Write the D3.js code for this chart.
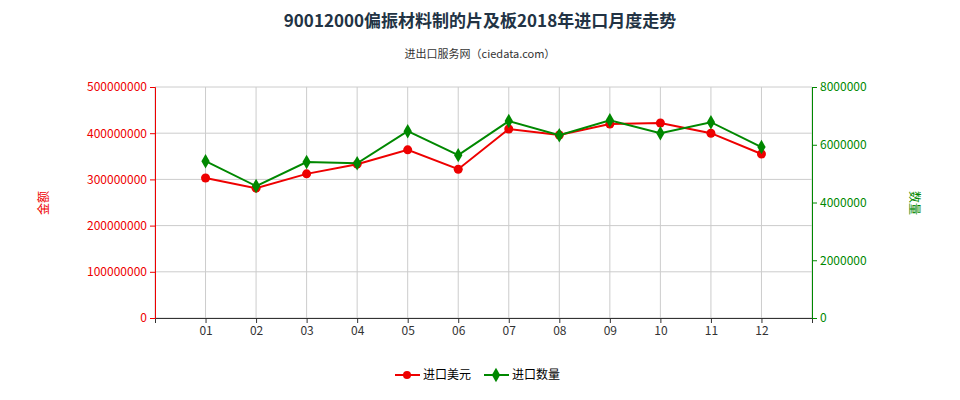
<!DOCTYPE html>
<html><head><meta charset="utf-8">
<script src="https://cdn.jsdelivr.net/npm/d3@7"></script>
<style>body{margin:0;background:#fff}text{font-family:"Noto Sans CJK SC","Noto Sans",sans-serif}</style>
</head><body><svg width="960" height="400"></svg>
<script>
const months=["01","02","03","04","05","06","07","08","09","10","11","12"];
const valueUSD=[303e6,281e6,312e6,333e6,364e6,322e6,409e6,396e6,420e6,422e6,400e6,355e6];
const quantity=[5.43e6,4.57e6,5.40e6,5.36e6,6.47e6,5.64e6,6.82e6,6.33e6,6.85e6,6.40e6,6.78e6,5.92e6];
const leftTicks=[0,1e8,2e8,3e8,4e8,5e8];
const rightTicks=[0,2e6,4e6,6e6,8e6];
const svg=d3.select("svg");
const L=155,R=812,T=87,B=318;
const x=d3.scalePoint().domain(months).range([L,R]).padding(1);
const yL=d3.scaleLinear().domain([0,5e8]).range([B,T]);
const yR=d3.scaleLinear().domain([0,8e6]).range([B,T]);
const g=svg.append("g");
leftTicks.forEach(t=>g.append("line").attr("x1",L).attr("x2",R).attr("y1",yL(t)).attr("y2",yL(t)).attr("stroke","#ccc"));
months.forEach(m=>g.append("line").attr("x1",x(m)).attr("x2",x(m)).attr("y1",T).attr("y2",B).attr("stroke","#ccc"));
g.append("line").attr("x1",L).attr("x2",L).attr("y1",T).attr("y2",B).attr("stroke","#ccc");
g.append("line").attr("x1",R).attr("x2",R).attr("y1",T).attr("y2",B).attr("stroke","#ccc");
const ax=svg.append("g").attr("transform",`translate(0,${B})`).call(d3.axisBottom(x).tickSize(5));
ax.selectAll("text").attr("font-size",12).attr("fill","#333");ax.selectAll("line,path").attr("stroke","#333");
const al=svg.append("g").attr("transform",`translate(${L},0)`).call(d3.axisLeft(yL).tickValues(leftTicks).tickFormat(d3.format("d")).tickSize(5));
al.selectAll("text").attr("font-size",12).attr("fill","#e00");al.selectAll("line,path").attr("stroke","#e00");
const ar=svg.append("g").attr("transform",`translate(${R},0)`).call(d3.axisRight(yR).tickValues(rightTicks).tickFormat(d3.format("d")).tickSize(5));
ar.selectAll("text").attr("font-size",12).attr("fill","#080");ar.selectAll("line,path").attr("stroke","#080");
const lineL=d3.line().x((d,i)=>x(months[i])).y(d=>yL(d));
const lineR=d3.line().x((d,i)=>x(months[i])).y(d=>yR(d));
svg.append("path").attr("d",lineL(valueUSD)).attr("fill","none").attr("stroke","#e00").attr("stroke-width",2);
svg.selectAll(".c").data(valueUSD).enter().append("circle").attr("cx",(d,i)=>x(months[i])).attr("cy",d=>yL(d)).attr("r",4.5).attr("fill","#e00");
svg.append("path").attr("d",lineR(quantity)).attr("fill","none").attr("stroke","#080").attr("stroke-width",2);
const dia=d3.symbol().type(d3.symbolDiamond).size(60);
svg.selectAll(".d").data(quantity).enter().append("path").attr("d",dia).attr("transform",(d,i)=>`translate(${x(months[i])},${yR(d)})`).attr("fill","#080");
svg.append("text").attr("x",480).attr("y",27).attr("text-anchor","middle").attr("font-size",17).attr("font-weight","bold").attr("fill","#234").text("90012000偏振材料制的片及板2018年进口月度走势");
svg.append("text").attr("x",480).attr("y",58).attr("text-anchor","middle").attr("font-size",11).attr("fill","#333").text("进出口服务网（ciedata.com）");
svg.append("text").attr("transform","translate(48,203) rotate(-90)").attr("text-anchor","middle").attr("font-size",12).attr("fill","#e00").text("金额");
svg.append("text").attr("transform","translate(910,203) rotate(90)").attr("text-anchor","middle").attr("font-size",12).attr("fill","#080").text("数量");
const lg=svg.append("g").attr("transform","translate(0,375)");
lg.append("line").attr("x1",395).attr("x2",420).attr("stroke","#e00").attr("stroke-width",2);
lg.append("circle").attr("cx",407).attr("r",4).attr("fill","#e00");
lg.append("text").attr("x",423).attr("y",4).attr("font-size",12).text("进口美元");
lg.append("line").attr("x1",484).attr("x2",509).attr("stroke","#080").attr("stroke-width",2);
lg.append("path").attr("d",dia).attr("transform","translate(496,0)").attr("fill","#080");
lg.append("text").attr("x",512).attr("y",4).attr("font-size",12).text("进口数量");
</script></body></html>
